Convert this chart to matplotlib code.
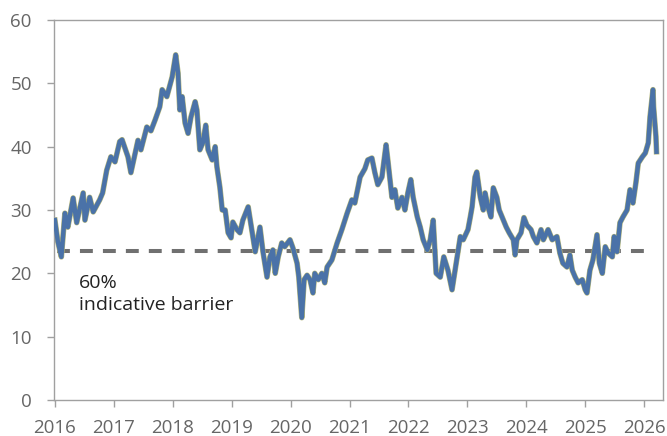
import numpy as np
import matplotlib
matplotlib.use("Agg")
import matplotlib.pyplot as plt

# series (decimal year, level)
years = [2016.00, 2016.05, 2016.11, 2016.17, 2016.22, 2016.31, 2016.37, 2016.48, 2016.51, 2016.59,
         2016.65, 2016.76, 2016.81, 2016.88, 2016.95, 2017.02, 2017.10, 2017.14, 2017.24, 2017.29,
         2017.41, 2017.46, 2017.56, 2017.63, 2017.70, 2017.78, 2017.82, 2017.90, 2017.99, 2018.05,
         2018.09, 2018.12, 2018.16, 2018.21, 2018.26, 2018.31, 2018.38, 2018.41, 2018.46, 2018.51,
         2018.56, 2018.60, 2018.67, 2018.72, 2018.75, 2018.80, 2018.84, 2018.89, 2018.94, 2018.99,
         2019.02, 2019.09, 2019.14, 2019.19, 2019.28, 2019.34, 2019.40, 2019.48, 2019.53, 2019.60,
         2019.65, 2019.70, 2019.74, 2019.79, 2019.85, 2019.90, 2019.99, 2020.04, 2020.11, 2020.14,
         2020.19, 2020.23, 2020.28, 2020.33, 2020.38, 2020.41, 2020.47, 2020.53, 2020.58, 2020.62,
         2020.70, 2020.79, 2020.87, 2020.96, 2021.04, 2021.09, 2021.18, 2021.26, 2021.31, 2021.38,
         2021.43, 2021.48, 2021.55, 2021.62, 2021.65, 2021.72, 2021.77, 2021.82, 2021.89, 2021.94,
         2021.99, 2022.04, 2022.08, 2022.15, 2022.20, 2022.25, 2022.32, 2022.37, 2022.42, 2022.47,
         2022.54, 2022.60, 2022.67, 2022.74, 2022.81, 2022.88, 2022.93, 2023.01, 2023.05, 2023.08,
         2023.13, 2023.16, 2023.22, 2023.27, 2023.30, 2023.35, 2023.40, 2023.44, 2023.50, 2023.54,
         2023.61, 2023.66, 2023.71, 2023.78, 2023.81, 2023.84, 2023.91, 2023.96, 2024.01, 2024.08,
         2024.12, 2024.18, 2024.25, 2024.29, 2024.37, 2024.44, 2024.52, 2024.57, 2024.62, 2024.69,
         2024.74, 2024.78, 2024.83, 2024.88, 2024.95, 2025.00, 2025.03, 2025.08, 2025.13, 2025.20,
         2025.24, 2025.29, 2025.34, 2025.39, 2025.46, 2025.49, 2025.54, 2025.59, 2025.64, 2025.71,
         2025.76, 2025.81, 2025.86, 2025.90, 2025.97, 2026.02, 2026.07, 2026.10, 2026.15, 2026.16,
         2026.20, 2026.21]
values = [28.4, 25.0, 22.6, 29.5, 27.3, 31.9, 28.0, 32.7, 28.4, 32.0,
          29.7, 31.6, 32.7, 36.3, 38.4, 37.6, 40.8, 41.1, 38.4, 35.9,
          41.0, 39.5, 43.1, 42.5, 44.2, 46.3, 49.0, 47.9, 51.0, 54.5,
          51.6, 45.8, 47.9, 43.7, 42.1, 44.7, 47.1, 45.8, 39.5, 40.6,
          43.4, 39.5, 37.9, 40.0, 36.8, 33.6, 30.0, 30.0, 26.4, 25.6,
          28.1, 26.9, 26.4, 28.4, 30.5, 26.9, 23.4, 27.3, 23.5, 19.4,
          22.6, 23.7, 20.0, 22.6, 24.8, 24.2, 25.3, 24.0, 21.6, 19.4,
          13.0, 19.0, 19.7, 19.0, 16.9, 20.0, 19.0, 20.0, 18.5, 21.0,
          22.1, 24.8, 26.9, 29.5, 31.6, 31.1, 35.2, 36.5, 37.9, 38.2,
          35.9, 34.0, 35.2, 40.3, 37.9, 32.0, 33.2, 30.3, 32.0, 30.0,
          32.7, 34.8, 32.0, 28.9, 27.3, 25.3, 23.7, 25.3, 28.4, 20.0,
          19.4, 22.6, 20.5, 17.4, 21.6, 25.8, 25.3, 26.9, 28.9, 30.5,
          35.2, 36.0, 32.0, 30.0, 32.7, 30.5, 28.9, 33.5, 32.0, 30.0,
          28.4, 27.3, 26.4, 25.3, 22.9, 25.3, 26.4, 28.8, 27.6, 26.9,
          25.8, 24.8, 26.9, 25.3, 26.9, 25.3, 25.8, 23.2, 21.6, 21.0,
          22.9, 20.5, 19.4, 18.5, 19.0, 17.4, 16.9, 20.5, 22.1, 26.1,
          21.6, 20.0, 24.2, 23.2, 22.6, 25.8, 23.4, 28.0, 28.9, 30.0,
          33.2, 31.1, 34.3, 37.4, 38.4, 39.0, 40.6, 44.7, 49.0, 46.3,
          41.6, 39.2]

barrier_level = 23.5
barrier_span = [2016.03, 2026.05]
barrier_label = "60%\nindicative barrier"
x_ticks = list(range(2016, 2027))
y_ticks = [0, 10, 20, 30, 40, 50, 60]

plt.rcParams['font.family'] = ['Open Sans', 'DejaVu Sans']

fig = plt.figure(figsize=(6.67, 4.36), dpi=100)
ax = fig.add_axes([54 / 667, 36 / 436, 609 / 667, 380 / 436])

ax.plot(barrier_span, [barrier_level, barrier_level], color='#707070', lw=2.9,
        dashes=(3.2, 2.5), zorder=1)
ax.plot(years, values, color='#b3b57a', lw=4.0, solid_joinstyle='round', zorder=2)
ax.plot(years, values, color='#4a72a8', lw=3.2, solid_joinstyle='round', zorder=3)

ax.text(2016.41, 19.9, barrier_label, fontsize=14, color='#222222', va='top', ha='left',
        linespacing=1.3)

ax.set_xlim(2015.985, 2026.32)
ax.set_ylim(0, 60)
ax.set_xticks(x_ticks)
ax.set_yticks(y_ticks)
ax.tick_params(axis='both', colors='#a0a0a0', labelcolor='#666666', labelsize=13.5,
               length=5, width=1, direction='out')
ax.tick_params(axis='y', pad=11)
ax.tick_params(axis='x', pad=9)
for s in ax.spines.values():
    s.set_color('#a0a0a0')
    s.set_linewidth(1)

fig.savefig('out.png', dpi=100)
